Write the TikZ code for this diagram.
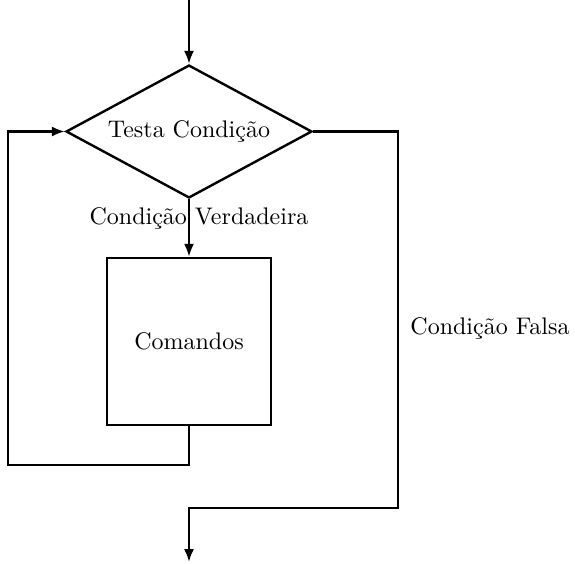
\documentclass[tikz,border=0pt]{standalone}
\usetikzlibrary{shapes.geometric,arrows.meta}
\begin{document}
\begin{tikzpicture}[x=0.4167pt,y=-0.4167pt,
  line width=1pt,
  arr/.style={-{Latex[length=5.4pt,width=4.2pt]}},
  decision/.style={draw,diamond,aspect=1.85,inner sep=0pt,minimum width=102.5pt,minimum height=55.4pt,line width=1pt},
  cmdbox/.style={draw,rectangle,minimum width=68.3pt,minimum height=69.6pt,line width=1pt},
  lbl/.style={inner sep=0pt}]
\useasboundingbox (0,0) rectangle (575,563);
\coordinate (start) at (189,0);
\node[decision] (test) at (189,131.5) {Testa Condição};
\node[cmdbox] (cmd) at (189,341.5) {Comandos};
\coordinate (end) at (189,562);
\coordinate (l1) at (189,465);
\coordinate (l2) at (8,465);
\coordinate (l3) at (8,131.5);
\coordinate (r1) at (398,131.5);
\coordinate (r2) at (398,508);
\coordinate (r3) at (189,508);
\node[lbl] (tv) at (199,218) {Condição Verdadeira};
\node[lbl] (tf) at (490,328) {Condição Falsa};
\draw[arr] (start) -- (test.north);
\draw[arr] (test.south) -- (cmd.north);
\draw[arr] (cmd.south) -- (l1) -- (l2) -- (l3) -- (test.west);
\draw[arr] (test.east) -- (r1) -- (r2) -- (r3) -- (end);
\end{tikzpicture}
\end{document}
